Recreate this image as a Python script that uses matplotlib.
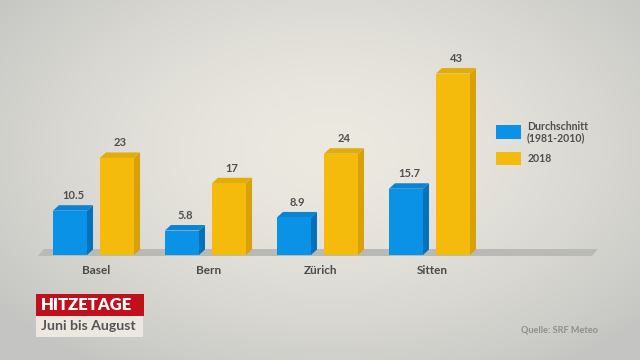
import numpy as np
import matplotlib.pyplot as plt
from matplotlib.patches import Polygon, Rectangle

plt.rcParams['font.family'] = ['Lato', 'DejaVu Sans']

# --- data ---
cities = ['Basel', 'Bern', 'Zürich', 'Sitten']
avg_1981_2010 = [10.5, 5.8, 8.9, 15.7]
year_2018 = [23, 17, 24, 43]
avg_labels = ['10.5', '5.8', '8.9', '15.7']
y2018_labels = ['23', '17', '24', '43']

BLUE = ('#0a93e6', '#0670bb', '#0983d2')     # front, side, top
YELLOW = ('#f4bb0d', '#d8a106', '#e3ad08')
TEXT = '#4f4f4f'

fig = plt.figure(figsize=(6.4, 3.6), dpi=100)

# --- background (pixel coordinates) ---
bg = fig.add_axes([0, 0, 1, 1])
yy, xx = np.mgrid[0:360, 0:640]
r = np.sqrt(((xx - 330) / 420.0) ** 2 + ((yy - 150) / 260.0) ** 2)
r = np.clip(r, 0, 1)
c0 = np.array([236, 233, 225]) / 255.0
c1 = np.array([196, 197, 194]) / 255.0
img = c0[None, None, :] * (1 - r[..., None] ** 1.6) + c1[None, None, :] * r[..., None] ** 1.6
bg.imshow(img, extent=[0, 640, 360, 0], aspect='auto')
bg.set_xlim(0, 640)
bg.set_ylim(360, 0)
bg.axis('off')

# floor
bg.add_patch(Polygon([(38, 256), (592, 256), (598, 249), (44, 249)],
                     closed=True, fc='#b9b9b6', ec='none'))

# title block
bg.add_patch(Rectangle((36, 294), 108, 22, fc='#c0101c', ec='none'))
bg.add_patch(Rectangle((36, 316), 107, 21, fc='#ece8df', ec='none'))
bg.text(41, 305.5, 'HITZETAGE', color='white', fontsize=12, fontweight='heavy',
        va='center', ha='left')
bg.text(41, 326.5, 'Juni bis August', color='#555555', fontsize=10.2, fontweight='bold',
        va='center', ha='left')
bg.text(598, 330, 'Quelle: SRF Meteo', color='#8f8f8c', fontsize=6.6, fontweight='bold',
        va='center', ha='right')

# legend
bg.add_patch(Rectangle((496, 125), 25, 14, fc=BLUE[0], ec='none'))
bg.add_patch(Rectangle((496, 152), 25, 13, fc=YELLOW[0], ec='none'))
bg.text(527, 126.5, 'Durchschnitt', color=TEXT, fontsize=7.6, fontweight='bold',
        va='center', ha='left')
bg.text(527, 138, '(1981-2010)', color=TEXT, fontsize=7.6, fontweight='bold',
        va='center', ha='left')
bg.text(528, 158.5, '2018', color=TEXT, fontsize=7.6, fontweight='bold', va='center', ha='left')

# --- bars ---
ax = fig.add_axes([30 / 640, 105 / 360, 580 / 640, 211 / 360])
ax.set_xlim(-0.567, 4.612)
ax.set_ylim(0, 50)
ax.axis('off')
ax.patch.set_alpha(0)

x = np.arange(len(cities))
w = 0.304
off = 0.21
dx = 6 / 112.0
dy = 1.3


def bars3d(xc, vals, labels, cols):
    ax.bar(xc, vals, width=w, color=cols[0], zorder=3)
    for xi, v, lab in zip(xc, vals, labels):
        xl, xr = xi - w / 2, xi + w / 2
        ax.add_patch(Polygon([(xr, 0), (xr + dx, dy), (xr + dx, v + dy), (xr, v)],
                             closed=True, fc=cols[1], ec='none', zorder=2))
        ax.add_patch(Polygon([(xl, v), (xl + dx, v + dy), (xr + dx, v + dy), (xr, v)],
                             closed=True, fc=cols[2], ec='none', zorder=2))
        ax.text(xi + dx / 2, v + dy + 1.0, lab, ha='center', va='bottom',
                fontsize=8, fontweight='bold', color=TEXT)


bars3d(x - off, avg_1981_2010, avg_labels, BLUE)
bars3d(x + off, year_2018, y2018_labels, YELLOW)

for xi, name in zip(x, cities):
    ax.text(xi + dx / 2, -3.6, name, ha='center', va='center', fontsize=8.5,
            fontweight='bold', color='#4a4a4a')

fig.savefig('out.png', dpi=100)
